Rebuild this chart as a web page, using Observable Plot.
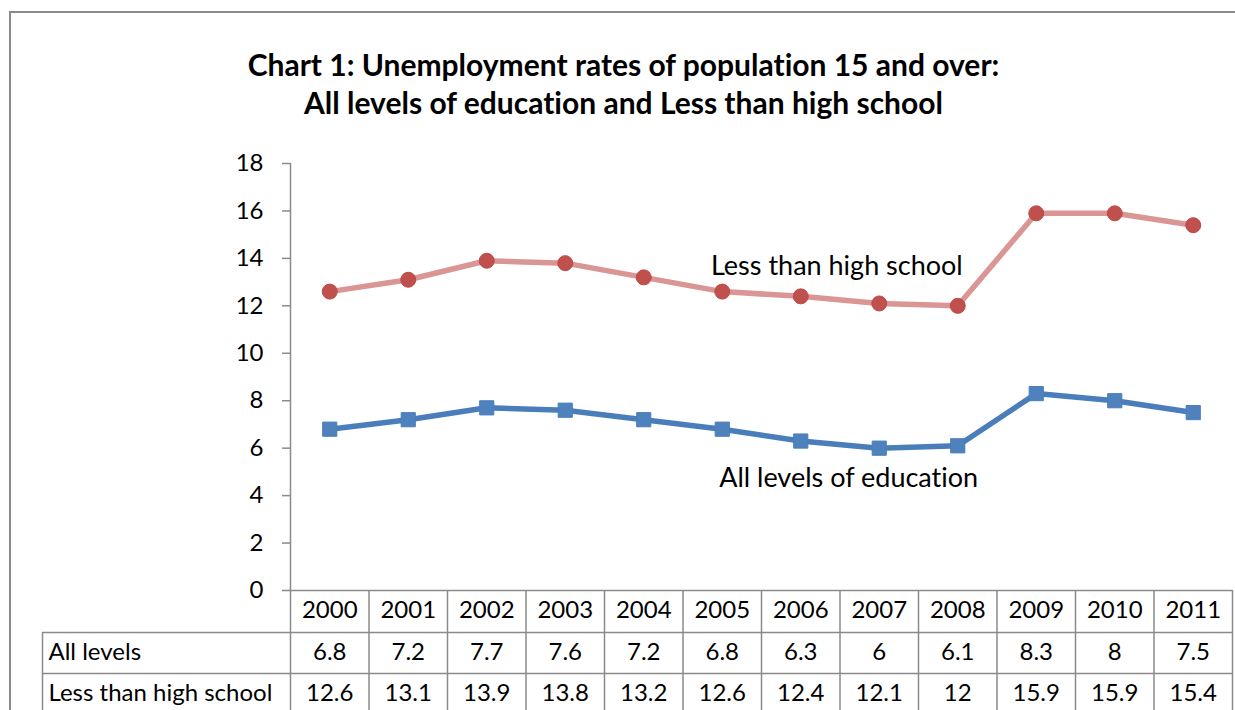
<!DOCTYPE html>
<html><head><meta charset="utf-8">
<script src="https://cdn.jsdelivr.net/npm/d3@7"></script>
<script src="https://cdn.jsdelivr.net/npm/@observablehq/plot@0.6"></script>
<style>
body{margin:0;background:#fff;}
#wrap{position:relative;width:1235px;height:710px;overflow:hidden;font-family:Lato, "Open Sans", sans-serif;background:#fff;font-variant-ligatures:none;}
#wrap svg text{font-variant-ligatures:none;}
#border{position:absolute;left:9px;top:11px;width:1300px;height:800px;border-left:2px solid #8a8a8a;border-top:2px solid #8a8a8a;z-index:5;pointer-events:none;}
#title{position:absolute;left:12px;top:0;width:1223px;height:140px;box-sizing:border-box;padding-top:45px;text-align:center;font-weight:bold;font-size:30px;line-height:38px;color:#000;}
#chart{position:absolute;left:0;top:140px;}
</style></head>
<body>
<div id="wrap">
  <div id="title">Chart 1: Unemployment rates of population 15 and over:<br>All levels of education and Less than high school</div>
  <div id="chart"></div>
  <div id="border"></div>
</div>
<script>
const years = [2000, 2001, 2002, 2003, 2004, 2005, 2006, 2007, 2008, 2009, 2010, 2011];
const allLevels = [6.8, 7.2, 7.7, 7.6, 7.2, 6.8, 6.3, 6, 6.1, 8.3, 8, 7.5];
const lessThanHighSchool = [12.6, 13.1, 13.9, 13.8, 13.2, 12.6, 12.4, 12.1, 12, 15.9, 15.9, 15.4];
const yTicks = [0, 2, 4, 6, 8, 10, 12, 14, 16, 18];
const rowNames = ["All levels", "Less than high school"];
const seriesLabels = ["Less than high school", "All levels of education"];

const allRows = years.map((year, i) => ({year, value: allLevels[i]}));
const lessRows = years.map((year, i) => ({year, value: lessThanHighSchool[i]}));
const bounds = years.map(y => y - 0.5).concat([years[years.length - 1] + 0.5]);

const grid = "#8a8a8a";
const frameH = 427;
const fs = 24;

const plot = Plot.plot({
  width: 1235,
  height: 570,
  marginTop: 23,
  marginBottom: 120,
  marginLeft: 290,
  marginRight: 3,
  x: {type: "linear", domain: [bounds[0], bounds[bounds.length - 1]], axis: null},
  y: {domain: [0, 18], axis: null},
  style: {fontFamily: "Lato, 'Open Sans', sans-serif", fontSize: fs + "px", color: "#000", background: "transparent", overflow: "visible"},
  marks: [
    Plot.axisY(yTicks, {tickSize: 8, tickPadding: 19, stroke: grid, strokeWidth: 1.5, fill: "#000", fontSize: fs, label: null, tickFormat: d => String(d)}),
    Plot.ruleX([bounds[0]], {stroke: grid, strokeWidth: 1.5, insetBottom: -120}),
    Plot.ruleY([0], {stroke: grid, strokeWidth: 1.5}),
    Plot.ruleX(bounds.slice(1), {stroke: grid, strokeWidth: 1.5, insetTop: frameH, insetBottom: -120}),
    Plot.ruleX([bounds[0]], {stroke: grid, strokeWidth: 1.5, dx: -248, insetTop: frameH + 42, insetBottom: -120}),
    Plot.ruleY([0], {stroke: grid, strokeWidth: 1.5, dy: 42, insetLeft: -248}),
    Plot.ruleY([0], {stroke: grid, strokeWidth: 1.5, dy: 83, insetLeft: -248}),
    Plot.text(years, {x: d => d, frameAnchor: "bottom", dy: 27, text: d => String(d), fill: "#000", fontSize: fs}),
    Plot.text(allLevels, {x: (d, i) => years[i], frameAnchor: "bottom", dy: 69, text: d => String(d), fill: "#000", fontSize: fs}),
    Plot.text(lessThanHighSchool, {x: (d, i) => years[i], frameAnchor: "bottom", dy: 110, text: d => String(d), fill: "#000", fontSize: fs}),
    Plot.text([rowNames[0]], {frameAnchor: "bottom-left", dx: -242, dy: 69, textAnchor: "start", text: d => d, fill: "#000", fontSize: fs}),
    Plot.text([rowNames[1]], {frameAnchor: "bottom-left", dx: -242, dy: 110, textAnchor: "start", text: d => d, fill: "#000", fontSize: fs}),
    Plot.line(lessRows, {x: "year", y: "value", stroke: "#D99694", strokeWidth: 5.5}),
    Plot.dot(lessRows, {x: "year", y: "value", r: 7.5, fill: "#C0504D", stroke: "#BE4B48", strokeWidth: 1}),
    Plot.line(allRows, {x: "year", y: "value", stroke: "#4A7EBB", strokeWidth: 5.5}),
    Plot.dot(allRows, {x: "year", y: "value", symbol: "square", r: 8, fill: "#4F81BD", stroke: "#4A7EBB", strokeWidth: 1}),
    Plot.text([seriesLabels[0]], {x: 2006.46, y: 13.66, text: d => d, fontSize: 27, fill: "#000"}),
    Plot.text([seriesLabels[1]], {x: 2006.61, y: 4.72, text: d => d, fontSize: 27, fill: "#000"})
  ]
});
document.getElementById("chart").appendChild(plot);
</script>
</body></html>
